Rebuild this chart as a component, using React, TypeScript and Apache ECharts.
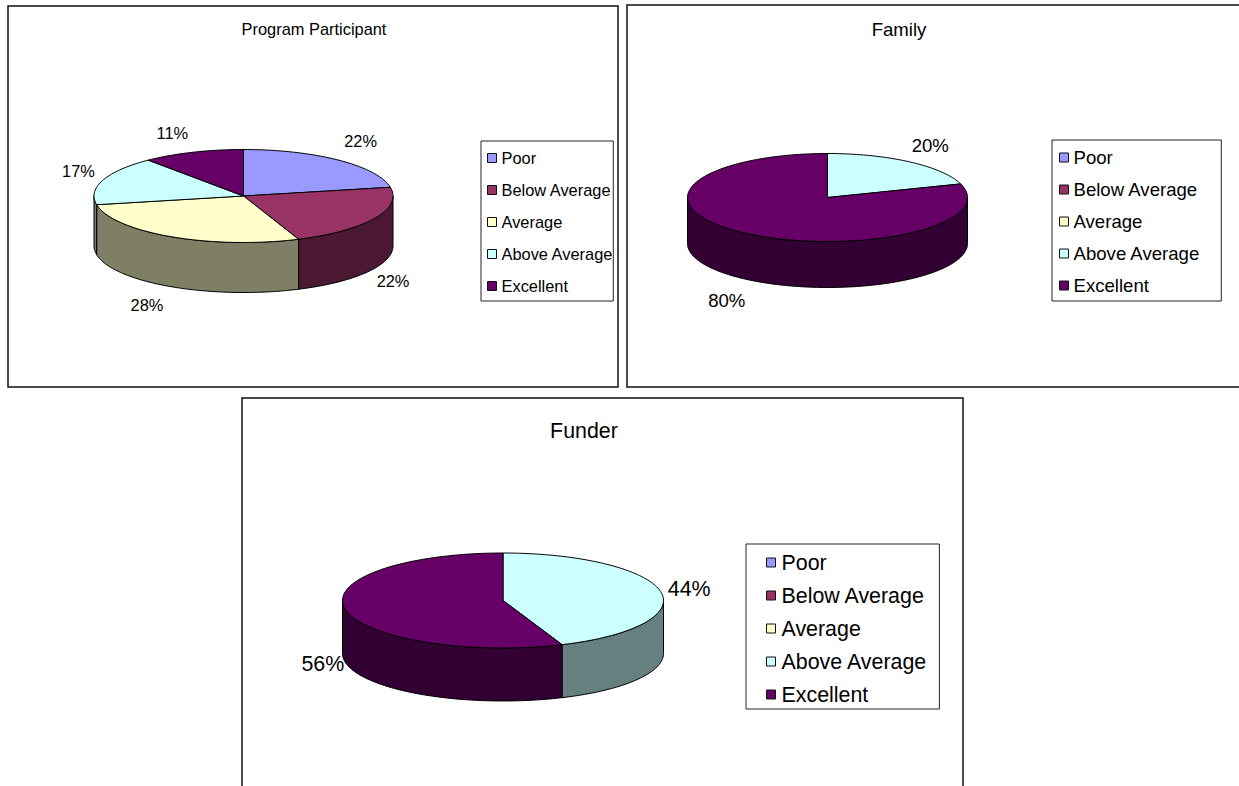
import React, { useEffect, useRef } from "react";
import * as echarts from "echarts";

const categories = ["Poor", "Below Average", "Average", "Above Average", "Excellent"];
const participantValues = [22, 22, 28, 17, 11];
const familyValues = [0, 0, 0, 20, 80];
const funderValues = [0, 0, 0, 44, 56];

const topColors = ["#9999FF", "#993366", "#FFFFCC", "#CCFFFF", "#660066"];
const wallColors = ["#4C4C7F", "#4C1933", "#7F7F66", "#667F7F", "#330033"];

const FONT = '"Liberation Sans", Arial, sans-serif';

const panels = [
  {
    title: "Program Participant",
    values: participantValues,
    pie: { cx: 243.5, cy: 196, rx: 149.5, ry: 46.5, depth: 50 },
    fontSize: 16.4,
    titleX: 314,
    titleY: 21,
    labelNudge: [[4, -2], [-6, 2], [-11, -1], [2, -2], [-11, 1]],
    legend: { left: 481, top: 141, padding: [9, 0, 7, 6], itemGap: 16, textGap: 5 },
  },
  {
    title: "Family",
    values: familyValues,
    pie: { cx: 827.5, cy: 197.5, rx: 140, ry: 44, depth: 46 },
    fontSize: 18.6,
    titleX: 899,
    titleY: 20,
    labelNudge: [[0, 0], [0, 0], [0, 0], [4, 1], [-2, 4]],
    legend: { left: 1052, top: 140, padding: [8, 21, 6, 7], itemGap: 13, textGap: 5 },
  },
  {
    title: "Funder",
    values: funderValues,
    pie: { cx: 503, cy: 600.5, rx: 160.5, ry: 47.5, depth: 53 },
    fontSize: 21.4,
    titleX: 584,
    titleY: 420,
    labelNudge: [[0, 0], [0, 0], [0, 0], [1, 2], [5, -3]],
    legend: { left: 746, top: 544, padding: [8, 12, 4, 20], itemGap: 12, textGap: 6 },
  },
];

const RIM_STEP = 1.5;

function rimPoint(pie: any, deg: number, drop = 0, growX = 0, growY = 0) {
  const t = (deg * Math.PI) / 180;
  return [
    pie.cx + (pie.rx + growX) * Math.sin(t),
    pie.cy - (pie.ry + growY) * Math.cos(t) + drop,
  ];
}

function rimArc(pie: any, from: number, to: number, drop = 0) {
  const pts: number[][] = [];
  const n = Math.max(1, Math.ceil((to - from) / RIM_STEP));
  for (let i = 0; i <= n; i++) pts.push(rimPoint(pie, from + ((to - from) * i) / n, drop));
  return pts;
}

// Each category is one custom series; each of its data items is one slice of one pie.
function sliceRenderer(categoryIndex: number) {
  return (params: any, api: any) => {
    const value = api.value(0);
    if (!value) return null;
    const panel = panels[params.dataIndex];
    const pie = panel.pie;
    const total = panel.values.reduce((a, b) => a + b, 0);
    const before = panel.values.slice(0, categoryIndex).reduce((a, b) => a + b, 0);
    const start = (before / total) * 360;
    const end = ((before + value) / total) * 360;
    const line = { stroke: "#000", lineWidth: 1, lineJoin: "round" };
    const children: any[] = [];

    // The wall shows only on the near half of the rim.
    const wallStart = Math.max(start, 90);
    const wallEnd = Math.min(end, 270);
    if (wallEnd > wallStart) {
      const upper = rimArc(pie, wallStart, wallEnd);
      const lower = rimArc(pie, wallStart, wallEnd, pie.depth).reverse();
      children.push({
        type: "polygon",
        shape: { points: upper.concat(lower) },
        style: { fill: wallColors[categoryIndex], ...line },
      });
    }

    children.push({
      type: "polygon",
      shape: { points: [[pie.cx, pie.cy], ...rimArc(pie, start, end)] },
      style: { fill: topColors[categoryIndex], ...line },
    });

    // Percentage sits just outside the rim, below the wall on the near half.
    const mid = (start + end) / 2;
    const near = Math.cos((mid * Math.PI) / 180) < 0;
    const [lx, ly] = rimPoint(pie, mid, near ? pie.depth : 0, 28, 22);
    const [nudgeX, nudgeY] = panel.labelNudge[categoryIndex];
    children.push({
      type: "text",
      x: lx + nudgeX,
      y: ly + nudgeY,
      z2: 10,
      style: {
        text: `${value}%`,
        fill: "#000",
        font: `${panel.fontSize}px ${FONT}`,
        align: "center",
        verticalAlign: "middle",
      },
    });

    return { type: "group", children };
  };
}

const frameStyle = { stroke: "#111", lineWidth: 1.5, fill: "none" };

export default function App() {
  const ref = useRef<HTMLDivElement>(null);

  useEffect(() => {
    const chart = echarts.init(ref.current!, null, { renderer: "svg" });
    chart.setOption({
      animation: false,
      backgroundColor: "#fff",
      title: panels.map((p) => ({
        text: p.title,
        left: p.titleX,
        top: p.titleY,
        padding: 0,
        textAlign: "center",
        textStyle: { fontFamily: FONT, fontSize: p.fontSize, fontWeight: "normal", color: "#000" },
      })),
      legend: panels.map((p) => ({
        data: categories,
        orient: "vertical",
        left: p.legend.left,
        top: p.legend.top,
        padding: p.legend.padding,
        itemGap: p.legend.itemGap,
        itemWidth: 9,
        itemHeight: 9,
        icon: "rect",
        align: "left",
        selectedMode: false,
        backgroundColor: "#fff",
        borderColor: "#222",
        borderWidth: 1,
        itemStyle: { borderColor: "#111", borderWidth: 1 },
        textStyle: { fontFamily: FONT, fontSize: p.fontSize, color: "#000", padding: [0, 0, 0, p.legend.textGap - 5] },
      })),
      graphic: [
        { type: "rect", shape: { x: 8, y: 6, width: 610, height: 381 }, style: frameStyle },
        {
          type: "polyline",
          shape: { points: [[1239, 5], [627, 5], [627, 387], [1239, 387]] },
          style: frameStyle,
        },
        {
          type: "polyline",
          shape: { points: [[242, 786], [242, 398], [963, 398], [963, 786]] },
          style: frameStyle,
        },
      ],
      series: categories.map((name, c) => ({
        type: "custom",
        name,
        coordinateSystem: "none",
        silent: true,
        clip: false,
        itemStyle: { color: topColors[c] },
        data: panels.map((p) => p.values[c]),
        renderItem: sliceRenderer(c),
      })),
    });
    return () => chart.dispose();
  }, []);

  return (
    <div
      ref={ref}
      style={{ position: "absolute", left: 0, top: 0, width: 1239, height: 786 }}
    />
  );
}
